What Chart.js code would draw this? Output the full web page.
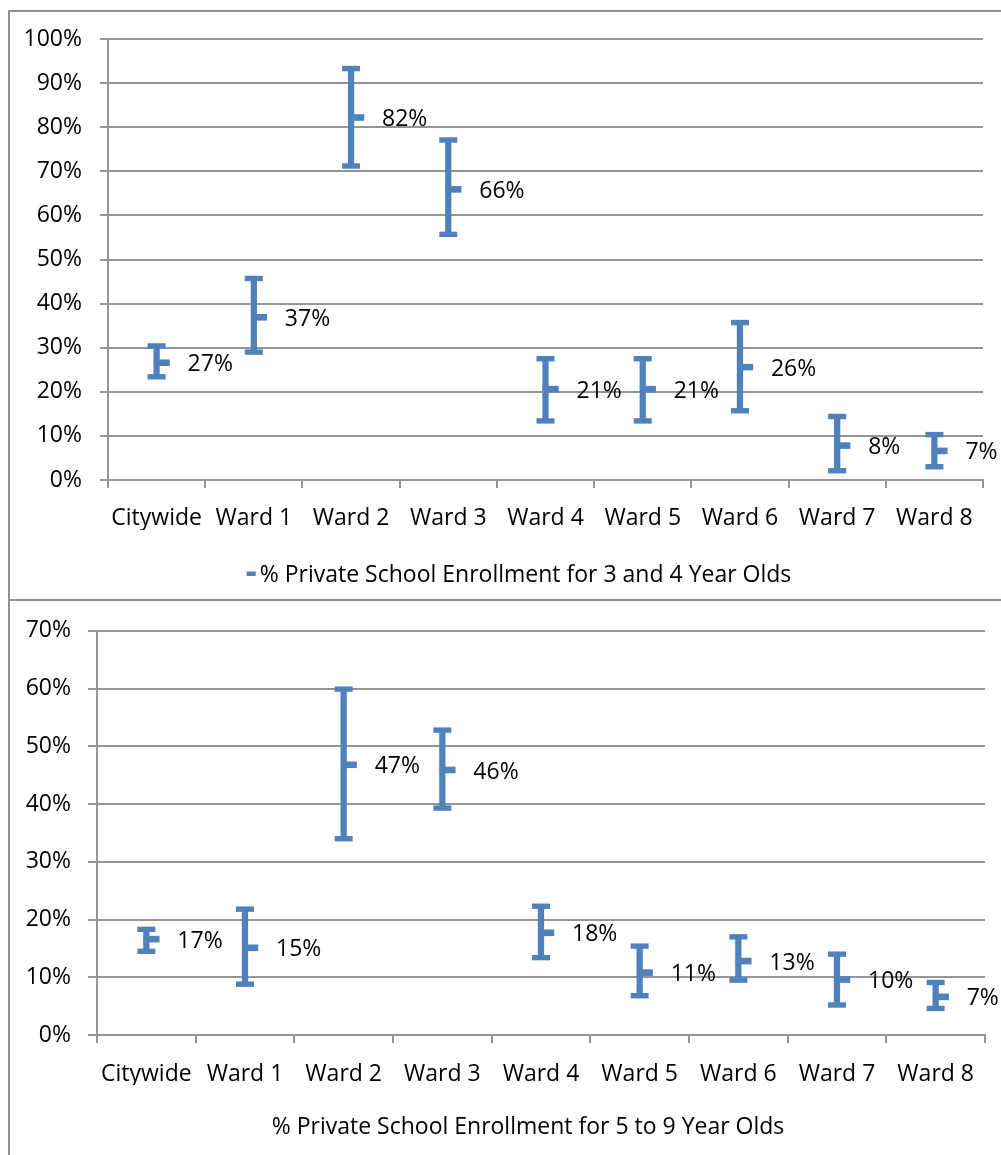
<!DOCTYPE html>
<html>
<head>
<meta charset="utf-8">
<script src="https://cdn.jsdelivr.net/npm/chart.js@4.4.1/dist/chart.umd.min.js"></script>
<style>
html,body{margin:0;padding:0;background:#fff;overflow:hidden;width:1001px;height:1155px;}
canvas{position:absolute;left:0;}
#c1{top:0;}
#c2{top:600px;}
.ln{position:absolute;background:#8f8f8f;}
</style>
</head>
<body>
<canvas id="c1" width="1001" height="600"></canvas>
<canvas id="c2" width="1001" height="555"></canvas>
<div class="ln" style="left:8px;top:10px;width:993px;height:2px;"></div>
<div class="ln" style="left:8px;top:599px;width:993px;height:2px;"></div>
<div class="ln" style="left:8px;top:10px;width:2px;height:1145px;"></div>
<script>
// ---- data ----
const categories = ["Citywide", "Ward 1", "Ward 2", "Ward 3", "Ward 4", "Ward 5", "Ward 6", "Ward 7", "Ward 8"];

const age34Label = "% Private School Enrollment for 3 and 4 Year Olds";
const age34Mean = [26.6, 36.9, 82.2, 65.9, 20.6, 20.6, 25.6, 7.8, 6.6];
const age34Low  = [23.4, 29.0, 71.2, 55.7, 13.4, 13.4, 15.7, 2.1, 3.0];
const age34High = [30.4, 45.7, 93.3, 77.1, 27.5, 27.5, 35.7, 14.4, 10.3];
const age34Ticks = [0, 10, 20, 30, 40, 50, 60, 70, 80, 90, 100];

const age59Label = "% Private School Enrollment for 5 to 9 Year Olds";
const age59Mean = [16.6, 15.1, 46.8, 45.9, 17.7, 10.8, 12.8, 9.6, 6.6];
const age59Low  = [14.5, 8.8, 34.0, 39.3, 13.4, 6.8, 9.5, 5.2, 4.6];
const age59High = [18.3, 21.8, 59.9, 52.8, 22.3, 15.4, 17.0, 14.0, 9.1];
const age59Ticks = [0, 10, 20, 30, 40, 50, 60, 70];

// ---- style ----
const BLUE = "#4F81BD";
const GRID = "#959595";
const FONT = "'Open Sans'";

const errPlugin = {
  id: "errbars",
  afterDatasetsDraw(chart, args, o) {
    const ctx = chart.ctx;
    const x = chart.scales.x, y = chart.scales.y;
    ctx.save();
    o.mean.forEach((v, i) => {
      const cx = x.getPixelForValue(i);
      const yH = y.getPixelForValue(o.high[i]);
      const yL = y.getPixelForValue(o.low[i]);
      const yM = y.getPixelForValue(v);
      ctx.fillStyle = BLUE;
      ctx.fillRect(cx - 9, yH - 2.7, 18, 5.4);
      ctx.fillRect(cx - 9, yL - 2.7, 18, 5.4);
      ctx.fillRect(cx - 2.8, yM - 3.3, 16, 6.6);
      ctx.fillStyle = "#000";
      ctx.font = o.fontSize + "px " + FONT;
      ctx.textAlign = "left";
      ctx.textBaseline = "middle";
      ctx.fillText(Math.round(v) + "%", cx + 31, yM + 2);
    });
    // legend
    ctx.font = o.fontSize + "px " + FONT;
    ctx.textBaseline = "middle";
    ctx.textAlign = "left";
    const tw = ctx.measureText(o.legend).width;
    const mw = o.marker ? 13 : 0;
    const start = o.legendCenter - (tw + mw) / 2;
    if (o.marker) {
      ctx.fillStyle = BLUE;
      ctx.fillRect(start, o.legendY - 3.5, 9, 4.5);
    }
    ctx.fillStyle = "#000";
    ctx.fillText(o.legend, start + mw, o.legendY);
    ctx.restore();
  }
};

function makeChart(id, mean, low, high, ticks, legend, cfg) {
  return new Chart(document.getElementById(id), {
    type: "bar",
    data: {
      labels: categories,
      datasets: [{
        label: legend,
        data: low.map((l, i) => [l, high[i]]),
        backgroundColor: BLUE,
        borderWidth: 0,
        barThickness: 5.6
      }]
    },
    options: {
      responsive: false,
      animation: false,
      devicePixelRatio: 1,
      layout: { padding: { top: cfg.top, left: 10, right: cfg.right, bottom: 70 } },
      plugins: {
        legend: { display: false },
        tooltip: { enabled: false },
        errbars: {
          mean: mean, low: low, high: high, fontSize: cfg.fontSize,
          legend: legend, marker: cfg.marker, legendCenter: cfg.legendCenter, legendY: cfg.legendY
        }
      },
      scales: {
        x: {
          offset: true,
          grid: { offset: true, drawOnChartArea: false, drawTicks: true, tickLength: 8, color: GRID, lineWidth: 2 },
          border: { display: true, color: GRID, width: 2 },
          ticks: { color: "#000", font: { family: FONT, size: cfg.fontSize }, padding: cfg.xPad, maxRotation: 0, autoSkip: false },
          afterFit(s) { s.height = 50; }
        },
        y: {
          min: ticks[0],
          max: ticks[ticks.length - 1],
          afterBuildTicks(s) { s.ticks = ticks.map(v => ({ value: v })); },
          grid: { color: GRID, lineWidth: 2, tickLength: cfg.tick },
          border: { display: true, color: GRID, width: 2 },
          ticks: { color: "#000", font: { family: FONT, size: cfg.fontSize }, padding: cfg.yPad, callback: v => v + "%" },
          afterFit(s) { s.width = cfg.yWidth; }
        }
      }
    },
    plugins: [errPlugin]
  });
}

makeChart("c1", age34Mean, age34Low, age34High, age34Ticks, age34Label,
  { top: 39, right: 18, yWidth: 98, tick: 8, yPad: 18, xPad: 17, fontSize: 23, marker: true, legendCenter: 519, legendY: 575 });
makeChart("c2", age59Mean, age59Low, age59High, age59Ticks, age59Label,
  { top: 27, right: 16, yWidth: 87, tick: 9, yPad: 17, xPad: 18, fontSize: 23, marker: false, legendCenter: 528, legendY: 527 });
</script>
</body>
</html>
